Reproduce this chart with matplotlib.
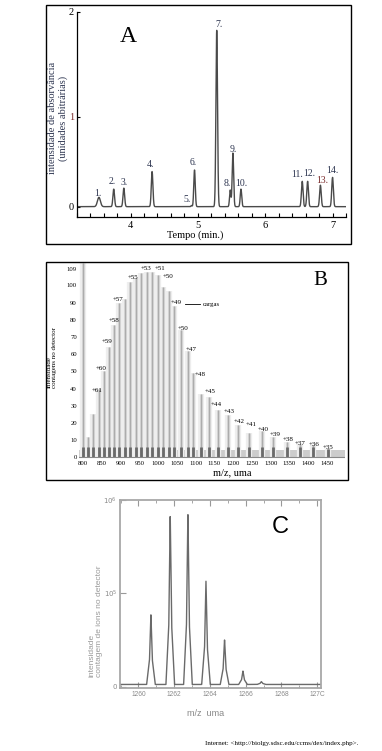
import matplotlib
matplotlib.use("Agg")
import matplotlib.pyplot as plt
from matplotlib.patches import Rectangle
from matplotlib.ticker import MultipleLocator
import numpy as np

W, H = 382, 751
SERIF = "Liberation Serif"
SANS = "Liberation Sans"

# ── panel A: chromatogram (time in min, absorbance in a.u.) ─────────────────
peak_ids_A = ["1.", "2.", "3.", "4.", "5.", "6.", "7.", "8.", "9.", "10.",
              "11.", "12.", "13.", "14."]
peak_t_A = [3.53, 3.75, 3.90, 4.32, 4.905, 4.95, 5.28, 5.48, 5.52, 5.64,
            6.55, 6.63, 6.82, 7.00]
peak_h_A = [0.096, 0.18, 0.19, 0.36, 0.012, 0.376, 1.81, 0.17, 0.55, 0.18,
            0.26, 0.26, 0.22, 0.30]
peak_w_A = [0.022, 0.012, 0.012, 0.012, 0.008, 0.011, 0.012, 0.010, 0.011, 0.011,
            0.012, 0.012, 0.012, 0.012]
label_t_A = [3.52, 3.73, 3.90, 4.30, 4.84, 4.93, 5.31, 5.43, 5.52, 5.65,
             6.48, 6.66, 6.84, 7.00]
label_y_A = [0.14, 0.257, 0.25, 0.435, 0.07, 0.45, 1.87, 0.24, 0.59, 0.24,
             0.335, 0.343, 0.27, 0.37]
yticks_A = [0, 0.92, 2]
yticklabels_A = ["0", "1", "2"]

# ── panel B: ESI mass spectrum ──────────────────────────────────────────────
mz_B = [800, 812, 827, 842, 855, 869, 883, 896, 911, 925, 940, 954, 969, 984,
        1000, 1014, 1029, 1043, 1061, 1079, 1094, 1114, 1136, 1160, 1187, 1214,
        1243, 1276, 1307, 1343, 1379, 1414, 1454]
h_B = [113, 12, 25, 40, 50, 64, 77, 90, 92, 102, 104, 107, 108, 108,
       106, 99, 97, 88, 74, 62, 49, 37, 35, 27.5, 24.6, 19,
       14, 15, 12, 9, 8, 7, 5]
charge_lbl_B = ["+61", "+60", "+59", "+58", "+57", "+55", "+53", "+51", "+50",
                "+49", "+50", "+47", "+48", "+45", "+44", "+43", "+42", "+41",
                "+40", "+39", "+38", "+37", "+36", "+35"]
charge_mz_B = [836, 847, 864, 883, 893, 934, 967, 1005, 1027, 1047, 1067, 1089,
               1112, 1138, 1156, 1189, 1216, 1249, 1281, 1312, 1346, 1379, 1417, 1453]
charge_y_B = [39, 51.7, 67.6, 79.6, 91.8, 104.6, 110, 110, 105.4, 90.1, 75, 62.8,
              48.3, 38.5, 30.8, 26.5, 20.7, 18.8, 15.9, 13.4, 10.6, 8.1, 7.6, 5.6]
yticks_B = [0, 10, 20, 30, 40, 50, 60, 70, 80, 90, 100, 109.5]
yticklabels_B = ["0", "10", "20", "30", "40", "50", "60", "70", "80", "90", "100", "109"]
xticks_B = list(range(800, 1451, 50))

# ── panel C: isotope envelope ───────────────────────────────────────────────
mz_C = [1260.7, 1261.78, 1262.77, 1263.78, 1264.82, 1265.85, 1266.88]
h_C = [0.375e6, 0.91e6, 0.923e6, 0.554e6, 0.241e6, 0.072e6, 0.015e6]
baseline_C = 0.012e6
xticks_C = [1260, 1262, 1264, 1266, 1268, 1270]
xticklabels_C = ["1260", "1262", "1264", "1266", "1268", "127C"]
yticks_C = [0, 5e5, 1e6]
yticklabels_C = ["0", r"$10^5$", r"$10^6$"]


fig = plt.figure(figsize=(W / 100, H / 100), dpi=100)


def px_axes(l, t, r, b):
    return fig.add_axes([l / W, 1 - b / H, (r - l) / W, (b - t) / H])


def box(l, t, r, b):
    fig.add_artist(Rectangle((l / W, 1 - b / H), (r - l) / W, (b - t) / H,
                             transform=fig.transFigure, fill=False, lw=1.0, ec="black"))


def ftext(x, y, s, **kw):
    fig.text(x / W, 1 - y / H, s, **kw)


# ── A ──
box(46, 4.7, 351, 244)
axA = px_axes(76.7, 11.7, 346, 216.7)
t = np.linspace(3.2, 7.2, 4000)
trace = np.zeros_like(t)
for c, h, w in zip(peak_t_A, peak_h_A, peak_w_A):
    trace += h * np.exp(-0.5 * ((t - c) / w) ** 2)
axA.plot(t, trace, color="#4a4a4a", lw=1.0)
axA.set_xlim(3.2, 7.2)
axA.set_ylim(-0.103, 2.0)
for s in ["top", "right"]:
    axA.spines[s].set_visible(False)
axA.spines["left"].set_linewidth(0.9)
axA.spines["bottom"].set_linewidth(0.9)
axA.set_xticks([4, 5, 6, 7])
axA.xaxis.set_minor_locator(MultipleLocator(0.2))
axA.tick_params(axis="x", which="both", direction="in", length=3, width=0.8, pad=3)
axA.set_yticks(yticks_A)
axA.set_yticklabels(yticklabels_A)
axA.tick_params(axis="y", direction="in", length=2, width=0.8, pad=2)
for lab in axA.get_xticklabels() + axA.get_yticklabels():
    lab.set_fontfamily(SERIF)
    lab.set_fontsize(7.5)
axA.get_yticklabels()[1].set_color("#7a2a2a")
for s, x, y in zip(peak_ids_A, label_t_A, label_y_A):
    axA.text(x, y, s, ha="center", va="center", fontsize=7, family=SERIF,
             color="#7a2a2a" if s == "13." else "#2d3550")
ftext(128, 36, "A", ha="center", va="center", fontsize=17, family=SERIF)
ftext(195, 235, "Tempo (min.)", ha="center", va="center", fontsize=7.5, family=SERIF)
ftext(58, 118, "intensidade de absorvância\n(unidades abitrárias)", rotation=90,
      ha="center", va="center", fontsize=7.5, family=SERIF, linespacing=1.3,
      color="#2d3550")

# ── B ──
box(46, 261.7, 348, 480)
axB = px_axes(79, 263, 345, 459)
axB.fill_between([788, 1499], 0, 4, color="#cccccc", lw=0)
axB.vlines(mz_B, 0, h_B, color="#eeeeee", lw=4.5)
axB.vlines(mz_B, 0, h_B, color="#d2d2d2", lw=2.2)
axB.vlines(mz_B, 0, h_B, color="#ababab", lw=0.7)
axB.vlines(mz_B, 0, np.minimum(h_B, 6), color="#6a6a6a", lw=2.0)
axB.axhline(0, color="#888888", lw=0.8)
axB.set_xlim(788.5, 1498.7)
axB.set_ylim(-1, 113)
for s in axB.spines.values():
    s.set_visible(False)
axB.set_xticks(xticks_B)
axB.set_yticks(yticks_B)
axB.set_yticklabels(yticklabels_B)
axB.tick_params(length=0, pad=1.5)
for lab in axB.get_xticklabels() + axB.get_yticklabels():
    lab.set_fontfamily(SERIF)
    lab.set_fontsize(4.8)
for s, x, y in zip(charge_lbl_B, charge_mz_B, charge_y_B):
    axB.text(x, y, s, ha="center", va="center", fontsize=5, family=SERIF)
axB.plot([1072, 1112], [89, 89], color="black", lw=0.6)
axB.text(1118, 89, "cargas", ha="left", va="center", fontsize=4.8, family=SERIF)
ftext(320, 280, "B", ha="center", va="center", fontsize=15, family=SERIF)
ftext(232, 473, "m/z, uma", ha="center", va="center", fontsize=7.5, family=SERIF)
ftext(52, 388, "intensidade\ncontagens no detector", rotation=90, ha="center",
      va="bottom", multialignment="left", fontsize=5, family=SERIF, linespacing=1.0)

# ── C ──
axC = px_axes(120, 500, 320.7, 688.3)
x = np.linspace(1259, 1270.2, 3000)
yC = np.full_like(x, baseline_C)
for c, h in zip(mz_C, h_C):
    yC += np.interp(x, [c - 0.24, c - 0.08, c, c + 0.08, c + 0.24],
                    [0, 0.35 * h, h, 0.35 * h, 0])
axC.plot(x, yC, color="#6a6a6a", lw=1.0)
axC.set_xlim(1258.97, 1270.2)
axC.set_ylim(-8600, 1e6)
for s in axC.spines.values():
    s.set_color("#a8a8a8")
    s.set_linewidth(1.3)
axC.set_xticks(xticks_C)
axC.set_xticklabels(xticklabels_C)
axC.xaxis.set_minor_locator(MultipleLocator(1))
axC.set_yticks(yticks_C)
axC.set_yticklabels(yticklabels_C)
axC.tick_params(which="major", direction="in", length=4, width=0.8, color="#999999",
                top=True, right=False, labelcolor="#8a8a8a", pad=2)
axC.tick_params(which="minor", direction="in", length=2, width=0.6, color="#999999",
                top=True)
for lab in axC.get_xticklabels():
    lab.set_fontfamily(SANS)
    lab.set_fontsize(4.8)
for lab in axC.get_yticklabels():
    lab.set_fontsize(5)
ftext(280, 527, "C", ha="center", va="center", fontsize=17, family=SANS)
ftext(206, 713, "m/z  uma", ha="center", va="center", fontsize=6.5, family=SANS,
      color="#888888")
ftext(96, 677, "intensidade\ncontagem de ions no detector", rotation=90,
      ha="center", va="bottom", multialignment="left", fontsize=6, family=SANS,
      color="#9a9a9a", linespacing=1.0)

ftext(205, 743, "Internet: <http://biolgy.sdsc.edu/ccms/dex/index.php>.",
      ha="left", va="center", fontsize=5, family=SERIF)

fig.savefig("out.png", dpi=100)
